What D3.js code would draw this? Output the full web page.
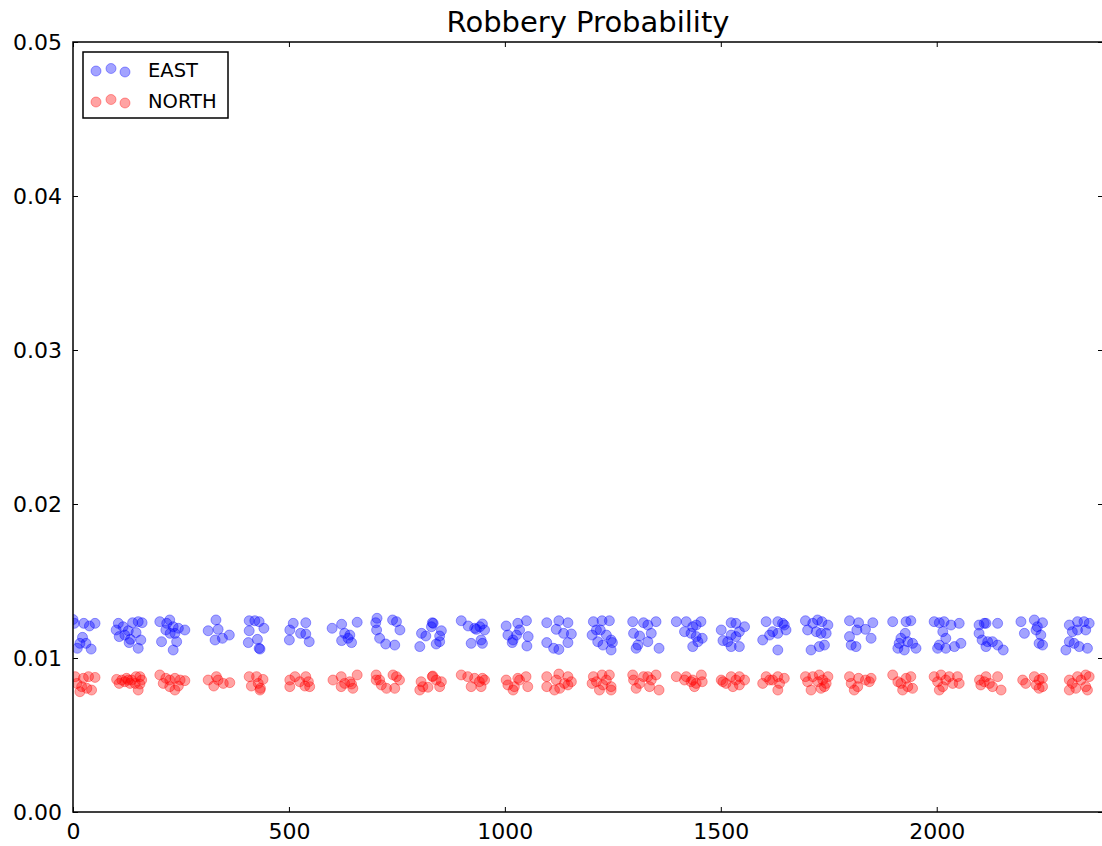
<!DOCTYPE html>
<html>
<head>
<meta charset="utf-8">
<script src="https://cdn.jsdelivr.net/npm/d3@7"></script>
<style>
  html, body { margin: 0; padding: 0; background: #ffffff; }
  svg { display: block; font-family: "DejaVu Sans", sans-serif; }
</style>
</head>
<body>
<svg id="chart" width="1102" height="846"></svg>
<script>
// Robbery probability samples per time index
const eastX = [
  0, 3, 25, 38, 51, 22, 16, 30, 42, 10,
  105, 100, 116, 128, 138, 151, 160, 107, 120, 133, 146, 157, 130, 151,
  201, 217, 224, 232, 244, 259, 215, 225, 236, 205, 240, 232,
  331, 313, 336, 329, 346, 362,
  408, 421, 431, 442, 408, 406, 427, 431, 433,
  510, 539, 502, 527, 539, 547, 501,
  600, 622, 658, 629, 641, 622, 645, 637,
  704, 701, 703, 740, 749, 757, 710, 724, 745,
  832, 834, 830, 853, 807, 817, 849, 849, 803, 841,
  899, 915, 930, 948, 953, 942, 934, 922, 945, 948,
  1003, 1030, 1050, 1034, 1007, 1019, 1027, 1054, 1017, 1051,
  1097, 1125, 1146, 1119, 1136, 1154, 1146, 1097, 1113, 1125,
  1205, 1225, 1242, 1212, 1221, 1202, 1235, 1246, 1215, 1227, 1246, 1249,
  1296, 1321, 1331, 1350, 1298, 1312, 1339, 1331, 1308, 1304, 1357,
  1397, 1420, 1454, 1435, 1443, 1416, 1431, 1443, 1457, 1435, 1447,
  1501, 1524, 1535, 1555, 1543, 1524, 1535, 1516, 1505, 1543, 1524,
  1605, 1597, 1620, 1632, 1647, 1613, 1632, 1651, 1632, 1643,
  1696, 1713, 1724, 1734, 1748, 1701, 1721, 1732, 1744, 1728, 1709, 1740,
  1798, 1819, 1852, 1835, 1798, 1815, 1848, 1802, 1813,
  1898, 1929, 1940, 1927, 1913, 1933, 1944, 1910, 1925, 1952, 1917,
  1994, 2006, 2017, 2033, 2052, 2014, 2021, 2006, 2002, 2021, 2041, 2056,
  2098, 2114, 2141, 2098, 2105, 2118, 2129, 2141, 2154, 2114, 2110,
  2195, 2203, 2226, 2233, 2245, 2230, 2241, 2237, 2245,
  2307, 2326, 2341, 2353, 2314, 2345, 2307, 2318, 2330, 2349, 2299, 2326
];
const eastY = [
  0.0125, 0.01225, 0.01225, 0.01208, 0.01225, 0.01134, 0.01095, 0.01095, 0.01058, 0.01063,
  0.01225, 0.01182, 0.01203, 0.01177, 0.01229, 0.01236, 0.01229, 0.01139, 0.01149, 0.01121, 0.01165, 0.01117, 0.0110, 0.01063,
  0.01236, 0.01225, 0.01247, 0.01203, 0.01193, 0.01182, 0.01182, 0.0116, 0.0116, 0.01106, 0.01106, 0.01052,
  0.01247, 0.01177, 0.01186, 0.01117, 0.01128, 0.01149,
  0.01242, 0.01242, 0.01236, 0.01193, 0.01177, 0.0110, 0.01121, 0.01063, 0.01058,
  0.01225, 0.01229, 0.01182, 0.0116, 0.01156, 0.01106, 0.01117,
  0.01193, 0.01219, 0.01232, 0.0116, 0.01149, 0.01113, 0.0110, 0.01128,
  0.01258, 0.01229, 0.01182, 0.01247, 0.01236, 0.01182, 0.01128, 0.01091, 0.01084,
  0.01229, 0.01225, 0.01203, 0.01177, 0.0116, 0.01143, 0.01143, 0.01106, 0.01074, 0.01091,
  0.01242, 0.01208, 0.01193, 0.01221, 0.01182, 0.01203, 0.01186, 0.01095, 0.01117, 0.01095,
  0.01208, 0.01225, 0.01242, 0.01182, 0.01149, 0.01117, 0.01149, 0.01139, 0.0110, 0.01078,
  0.01229, 0.01242, 0.01229, 0.01186, 0.0116, 0.01156, 0.0110, 0.0110, 0.01063, 0.01056,
  0.01236, 0.01242, 0.01242, 0.01182, 0.01182, 0.01149, 0.01149, 0.01117, 0.01106, 0.01084, 0.01052, 0.0110,
  0.01236, 0.01229, 0.01214, 0.01236, 0.0116, 0.01143, 0.0116, 0.01106, 0.01084, 0.01063, 0.01063,
  0.01236, 0.01236, 0.01236, 0.01203, 0.01214, 0.01171, 0.0116, 0.01139, 0.01128, 0.01074, 0.01106,
  0.01182, 0.01229, 0.01225, 0.01203, 0.01171, 0.01149, 0.01139, 0.01106, 0.01113, 0.01074, 0.01074,
  0.01236, 0.01117, 0.01171, 0.01236, 0.01214, 0.01149, 0.0116, 0.01182, 0.01052, 0.01225,
  0.01242, 0.01225, 0.01247, 0.01236, 0.01214, 0.01182, 0.01171, 0.0116, 0.0116, 0.01074, 0.01052, 0.01084,
  0.01242, 0.01229, 0.01229, 0.01186, 0.01139, 0.01182, 0.01128, 0.01084, 0.01074,
  0.01236, 0.01236, 0.01242, 0.0116, 0.01095, 0.01106, 0.01095, 0.01063, 0.01052, 0.01063, 0.01128,
  0.01236, 0.01229, 0.01236, 0.01214, 0.01225, 0.01171, 0.01128, 0.01084, 0.01063, 0.01063, 0.01074, 0.01095,
  0.01214, 0.01225, 0.01225, 0.0116, 0.01117, 0.01106, 0.01106, 0.01084, 0.01052, 0.01074, 0.01225,
  0.01236, 0.0116, 0.01247, 0.01203, 0.01229, 0.01182, 0.01149, 0.01095, 0.01084,
  0.01214, 0.01236, 0.01236, 0.01225, 0.01171, 0.01182, 0.01106, 0.01095, 0.01074, 0.01063, 0.01052, 0.01182
];
const northX = [
  5, 9, 24, 36, 51, 20, 32, 43, 16,
  101, 113, 124, 136, 146, 155, 107, 120, 132, 144, 155, 151, 128, 159,
  201, 215, 224, 236, 248, 259, 209, 224, 236, 244,
  313, 332, 336, 348, 363, 326,
  408, 425, 440, 413, 429, 433, 434,
  502, 514, 539, 545, 502, 525, 548, 537,
  602, 621, 658, 629, 641, 621, 648, 645,
  702, 710, 741, 749, 756, 714, 726, 745, 702,
  832, 833, 841, 853, 806, 810, 822, 849, 803,
  899, 914, 930, 948, 953, 941, 922, 945,
  1003, 1030, 1049, 1034, 1007, 1022, 1053, 1019,
  1097, 1125, 1146, 1119, 1154, 1138, 1097, 1115, 1127, 1146,
  1205, 1225, 1242, 1212, 1235, 1202, 1227, 1246, 1219, 1246,
  1296, 1321, 1331, 1350, 1298, 1312, 1339, 1304, 1335, 1357,
  1397, 1420, 1455, 1435, 1416, 1443, 1431, 1457, 1439,
  1501, 1524, 1543, 1555, 1512, 1535, 1528, 1543, 1505,
  1605, 1597, 1620, 1632, 1647, 1613, 1636, 1632,
  1696, 1713, 1728, 1748, 1701, 1725, 1736, 1744, 1709, 1732, 1740,
  1798, 1819, 1848, 1835, 1802, 1817, 1809, 1844,
  1898, 1929, 1940, 1917, 1910, 1933, 1944, 1921,
  1994, 2010, 2029, 2048, 2002, 2021, 2037, 2014, 2006, 2052,
  2099, 2114, 2141, 2110, 2122, 2129, 2149, 2102,
  2199, 2226, 2237, 2245, 2230, 2237, 2245, 2206,
  2307, 2326, 2345, 2353, 2314, 2334, 2307, 2322, 2345, 2349
];
const northY = [
  0.00879, 0.00835, 0.00868, 0.00879, 0.00874, 0.00814, 0.00803, 0.00792, 0.00781,
  0.00861, 0.00857, 0.00868, 0.00857, 0.00879, 0.00879, 0.00835, 0.00846, 0.00835, 0.00835, 0.00831, 0.00792, 0.00857, 0.00857,
  0.0089, 0.00868, 0.00857, 0.00868, 0.00857, 0.00853, 0.00835, 0.00814, 0.00792, 0.00818,
  0.00857, 0.00879, 0.00857, 0.00835, 0.0084, 0.00818,
  0.00879, 0.00879, 0.00861, 0.00818, 0.00835, 0.00792, 0.00803,
  0.00857, 0.00879, 0.00879, 0.00846, 0.00814, 0.00846, 0.00814, 0.00818,
  0.00857, 0.00879, 0.0089, 0.00835, 0.00846, 0.00814, 0.00803, 0.00831,
  0.0089, 0.00857, 0.0089, 0.00879, 0.00857, 0.00825, 0.00803, 0.00803, 0.00857,
  0.00879, 0.00883, 0.00857, 0.00846, 0.00846, 0.00814, 0.0081, 0.00814, 0.00792,
  0.0089, 0.00879, 0.00868, 0.00868, 0.00857, 0.00846, 0.00814, 0.00814,
  0.00857, 0.00868, 0.00879, 0.00857, 0.00825, 0.00814, 0.00814, 0.00792,
  0.00879, 0.00896, 0.00879, 0.00857, 0.00846, 0.00835, 0.00814, 0.00792, 0.00803, 0.00825,
  0.00879, 0.0089, 0.0089, 0.00846, 0.00857, 0.00835, 0.00825, 0.00814, 0.00792, 0.00792,
  0.0089, 0.00879, 0.00879, 0.0089, 0.00857, 0.00835, 0.00857, 0.00803, 0.00814, 0.00792,
  0.00879, 0.00879, 0.0089, 0.00857, 0.00857, 0.00835, 0.00846, 0.00846, 0.00814,
  0.00857, 0.00879, 0.00879, 0.00857, 0.00835, 0.00857, 0.00814, 0.00825, 0.00846,
  0.00879, 0.00835, 0.00857, 0.00879, 0.00868, 0.00857, 0.00835, 0.00792,
  0.00879, 0.00879, 0.0089, 0.00879, 0.00846, 0.00846, 0.00857, 0.00835, 0.00792, 0.00803, 0.00814,
  0.00879, 0.00868, 0.00868, 0.00857, 0.00835, 0.00814, 0.00792, 0.00846,
  0.0089, 0.00868, 0.00879, 0.00835, 0.00846, 0.00814, 0.00803, 0.00792,
  0.00879, 0.0089, 0.00879, 0.00879, 0.00846, 0.00857, 0.00835, 0.00814, 0.00792, 0.00835,
  0.00857, 0.00879, 0.00879, 0.00846, 0.00835, 0.00814, 0.00792, 0.00825,
  0.00857, 0.00879, 0.00857, 0.00868, 0.00825, 0.00803, 0.00814, 0.00835,
  0.00857, 0.00879, 0.0089, 0.00879, 0.00835, 0.00857, 0.00792, 0.00803, 0.00814, 0.00792
];
const seriesNames = ["EAST", "NORTH"];
const seriesColors = ["#0000ff", "#ff0000"];
const xTicks = [0, 500, 1000, 1500, 2000];
const yTicks = [0.00, 0.01, 0.02, 0.03, 0.04, 0.05];
const xMax = 2385;
const chartTitle = "Robbery Probability";

const svg = d3.select("#chart");
const W = 1102, H = 846;
const m = { left: 73, top: 42, right: 1103, bottom: 812 };

svg.append("rect").attr("width", W).attr("height", H).attr("fill", "#fff");

const x = d3.scaleLinear().domain([0, xMax]).range([m.left, m.right]);
const y = d3.scaleLinear().domain([0, 0.05]).range([m.bottom, m.top]);

svg.append("defs").append("clipPath").attr("id", "plotClip")
  .append("rect")
  .attr("x", m.left).attr("y", m.top)
  .attr("width", m.right - m.left).attr("height", m.bottom - m.top);

// scatter points
const series = [
  { name: seriesNames[0], color: seriesColors[0], pts: eastX.map((v, i) => [v, eastY[i]]) },
  { name: seriesNames[1], color: seriesColors[1], pts: northX.map((v, i) => [v, northY[i]]) }
];
const markerAlpha = 0.36;
const plot = svg.append("g").attr("clip-path", "url(#plotClip)");
series.forEach(s => {
  plot.append("g").selectAll("circle").data(s.pts).join("circle")
    .attr("cx", d => x(d[0]))
    .attr("cy", d => y(d[1]))
    .attr("r", 5)
    .attr("fill", s.color)
    .attr("fill-opacity", markerAlpha)
    .attr("stroke", s.color)
    .attr("stroke-opacity", markerAlpha)
    .attr("stroke-width", 1);
});

// axes: ticks inward on all four sides
const tickLen = 5;
const fmtY = d3.format(".2f");
const axB = svg.append("g").attr("transform", `translate(0,${m.bottom})`)
  .call(d3.axisBottom(x).tickValues(xTicks).tickSizeInner(-tickLen).tickSizeOuter(0).tickPadding(11).tickFormat(d3.format("d")));
const axT = svg.append("g").attr("transform", `translate(0,${m.top})`)
  .call(d3.axisTop(x).tickValues(xTicks).tickSizeInner(-tickLen).tickSizeOuter(0).tickFormat(""));
const axL = svg.append("g").attr("transform", `translate(${m.left},0)`)
  .call(d3.axisLeft(y).tickValues(yTicks).tickSizeInner(-tickLen).tickSizeOuter(0).tickPadding(11).tickFormat(fmtY));
const axR = svg.append("g").attr("transform", `translate(${m.right},0)`)
  .call(d3.axisRight(y).tickValues(yTicks).tickSizeInner(-tickLen).tickSizeOuter(0).tickFormat(""));

[axB, axT, axL, axR].forEach(a => {
  a.select(".domain").remove();
  a.selectAll(".tick line").attr("stroke", "#000").attr("stroke-width", 1);
  a.selectAll(".tick text").attr("fill", "#000")
    .style("font-family", "DejaVu Sans, sans-serif").style("font-size", "22px");
});

// frame
svg.append("rect")
  .attr("x", m.left).attr("y", m.top)
  .attr("width", m.right - m.left).attr("height", m.bottom - m.top)
  .attr("fill", "none").attr("stroke", "#000").attr("stroke-width", 1.5);

// title
svg.append("text")
  .attr("x", (m.left + m.right) / 2).attr("y", 32)
  .attr("text-anchor", "middle")
  .style("font-family", "DejaVu Sans, sans-serif").style("font-size", "29px")
  .attr("fill", "#000")
  .text(chartTitle);

// legend
const lg = svg.append("g");
lg.append("rect").attr("x", 83).attr("y", 52).attr("width", 145).attr("height", 66)
  .attr("fill", "#fff").attr("stroke", "#000").attr("stroke-width", 1.5);
const legendOffsets = [1, -1.5, 2];
series.forEach((s, i) => {
  const cy = 70 + i * 31;
  [96, 111, 125].forEach((cx, j) => {
    lg.append("circle").attr("cx", cx).attr("cy", cy + legendOffsets[j]).attr("r", 5)
      .attr("fill", s.color).attr("fill-opacity", markerAlpha)
      .attr("stroke", s.color).attr("stroke-opacity", markerAlpha);
  });
  lg.append("text").attr("x", 148).attr("y", cy + 7)
    .style("font-family", "DejaVu Sans, sans-serif").style("font-size", "19.5px")
    .attr("fill", "#000").text(s.name);
});
</script>
</body>
</html>
